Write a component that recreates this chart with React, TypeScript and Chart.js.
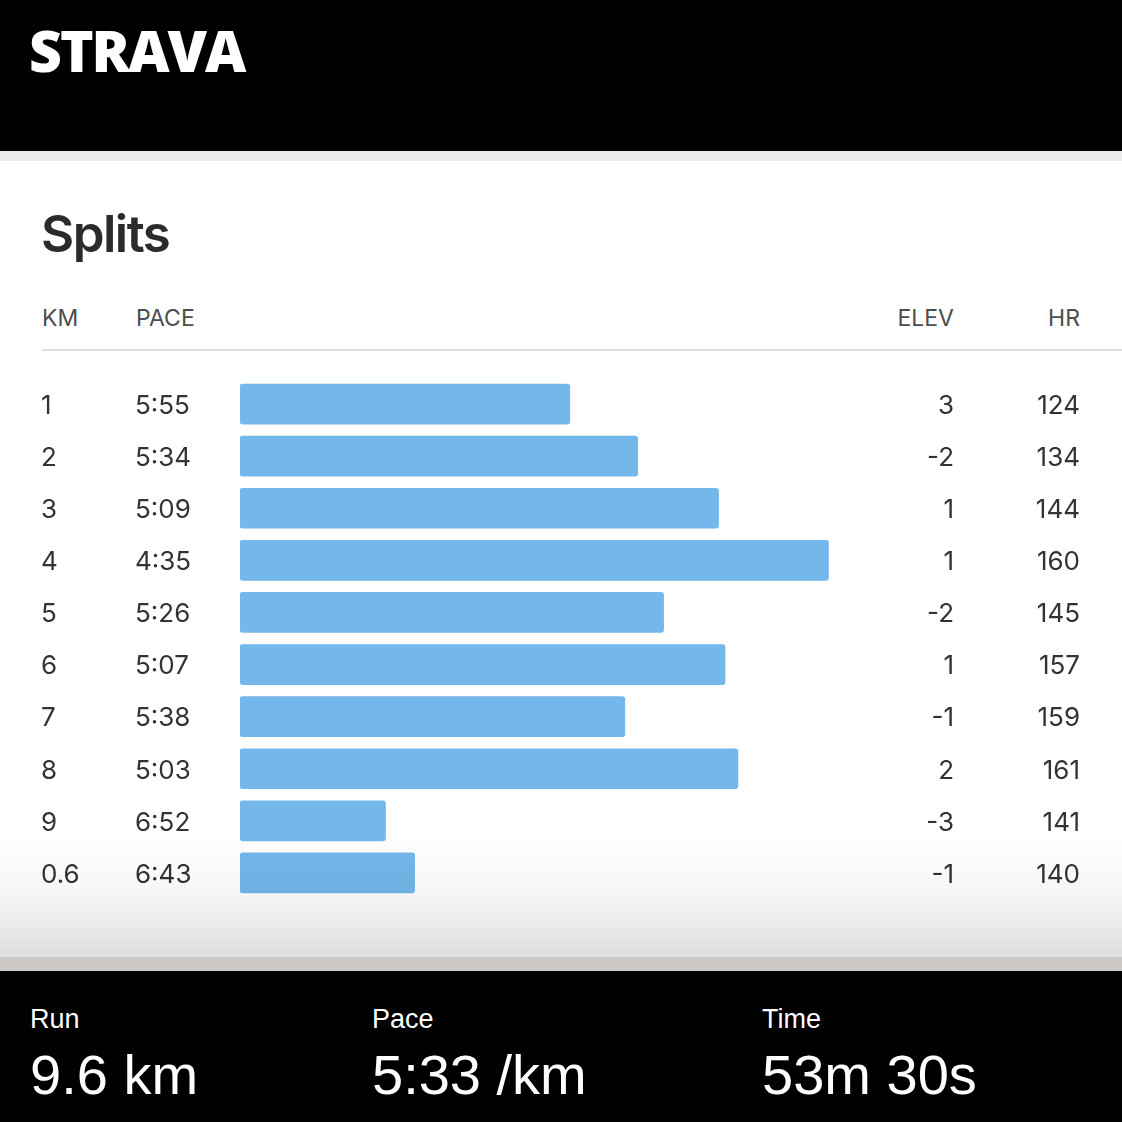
import React, { useEffect, useRef } from "react";
import { Chart, registerables } from "chart.js";

Chart.register(...registerables);

const KM_LABELS = ["1", "2", "3", "4", "5", "6", "7", "8", "9", "0.6"];
const PACES = ["5:55", "5:34", "5:09", "4:35", "5:26", "5:07", "5:38", "5:03", "6:52", "6:43"];
const ELEV = [3, -2, 1, 1, -2, 1, -1, 2, -3, -1];
const HR = [124, 134, 144, 160, 145, 157, 159, 161, 141, 140];
const PACE_AXIS_FAST = 260; // seconds per km at the right edge of the bar area
const PACE_AXIS_SLOW = 457; // seconds per km where bars start (left edge)

const SUMMARY_LABELS = ["Run", "Pace", "Time"];
const SUMMARY_VALUES = ["9.6 km", "5:33 /km", "53m 30s"];

const toSeconds = (p: string) => {
  const [m, s] = p.split(":").map(Number);
  return m * 60 + s;
};

const ROW_FONT = "Inter, 'Noto Sans', sans-serif";

const rowTextPlugin = {
  id: "rowText",
  afterDatasetsDraw(chart: any) {
    const { ctx } = chart;
    const y = chart.scales.y;
    ctx.save();
    ctx.font = `400 26px ${ROW_FONT}`;
    ctx.fillStyle = "#333333";
    ctx.textBaseline = "middle";
    KM_LABELS.forEach((km, i) => {
      const py = y.getPixelForValue(i) + 2;
      ctx.textAlign = "left";
      ctx.fillText(km, 41, py);
      ctx.fillText(PACES[i], 135, py);
      ctx.textAlign = "right";
      ctx.fillText(String(ELEV[i]), 954, py);
      ctx.fillText(String(HR[i]), 1080, py);
    });
    ctx.restore();
  },
};

export default function App() {
  const canvasRef = useRef<HTMLCanvasElement | null>(null);

  useEffect(() => {
    if (!canvasRef.current) return;
    const chart = new Chart(canvasRef.current, {
      type: "bar",
      data: {
        labels: KM_LABELS,
        datasets: [
          {
            data: PACES.map(toSeconds),
            base: PACE_AXIS_SLOW,
            backgroundColor: "#74b7eb",
            borderRadius: 3,
            borderSkipped: false,
            barThickness: 40,
          } as any,
        ],
      },
      options: {
        indexAxis: "y",
        animation: false,
        responsive: false,
        maintainAspectRatio: false,
        events: [],
        layout: { padding: { left: 240, right: 245, top: 378, bottom: 223 } },
        plugins: { legend: { display: false }, tooltip: { enabled: false } },
        scales: {
          x: {
            type: "linear",
            reverse: true,
            min: PACE_AXIS_FAST,
            max: PACE_AXIS_SLOW,
            display: false,
          },
          y: { type: "category", display: false },
        },
      },
      plugins: [rowTextPlugin],
    });
    return () => chart.destroy();
  }, []);

  const abs = (s: React.CSSProperties): React.CSSProperties => ({ position: "absolute", ...s });
  const headerStyle = (F: number): React.CSSProperties => ({
    fontFamily: ROW_FONT,
    fontSize: F,
    lineHeight: `${F}px`,
    color: "#4d4d4d",
    whiteSpace: "nowrap",
  });
  const summaryX = [30, 372, 762];

  return (
    <div style={abs({ left: 0, top: 0, width: 1122, height: 1122, background: "#ffffff", overflow: "hidden" })}>
      <div style={abs({ left: 0, top: 0, width: 1122, height: 151, background: "#000" })} />
      <div style={abs({ left: 0, top: 151, width: 1122, height: 10, background: "#ecebe9" })} />
      <div
        style={abs({
          left: 29,
          top: 21,
          fontFamily: "'Open Sans', sans-serif",
          fontWeight: 800,
          fontSize: 57,
          lineHeight: "58px",
          letterSpacing: -2,
          color: "#fff",
          whiteSpace: "nowrap",
        })}
      >
        STRAVA
      </div>
      <div
        style={abs({
          left: 41,
          top: 208,
          fontFamily: ROW_FONT,
          fontWeight: 600,
          fontSize: 51,
          lineHeight: "52px",
          color: "#2b2b2b",
          letterSpacing: -1.5,
        })}
      >
        Splits
      </div>
      <div style={abs({ left: 42, top: 307, ...headerStyle(23) })}>KM</div>
      <div style={abs({ left: 136, top: 307, ...headerStyle(23) })}>PACE</div>
      <div style={abs({ right: 168, top: 307, ...headerStyle(23), textAlign: "right" })}>ELEV</div>
      <div style={abs({ right: 42, top: 307, ...headerStyle(23), textAlign: "right" })}>HR</div>
      <div style={abs({ left: 42, top: 349, width: 1080, height: 2, background: "#dedede" })} />

      <canvas ref={canvasRef} width={1122} height={1122} style={abs({ left: 0, top: 0, width: 1122, height: 1122 })} />

      <div
        style={abs({
          left: 0,
          top: 830,
          width: 1122,
          height: 127,
          background: "linear-gradient(to bottom, rgba(0,0,0,0) 0%, rgba(0,0,0,0.035) 50%, rgba(0,0,0,0.13) 100%)",
        })}
      />
      <div style={abs({ left: 0, top: 957, width: 1122, height: 14, background: "#cbc8c5" })} />
      <div style={abs({ left: 0, top: 971, width: 1122, height: 151, background: "#000" })} />
      {SUMMARY_LABELS.map((lab, i) => (
        <React.Fragment key={lab}>
          <div
            style={abs({
              left: summaryX[i],
              top: 1006,
              fontFamily: "'Liberation Sans', Arial, sans-serif",
              fontSize: 27,
              lineHeight: "27px",
              color: "#fff",
              whiteSpace: "nowrap",
            })}
          >
            {lab}
          </div>
          <div
            style={abs({
              left: summaryX[i],
              top: 1047,
              fontFamily: "'Liberation Sans', Arial, sans-serif",
              fontSize: 56,
              lineHeight: "56px",
              color: "#fff",
              whiteSpace: "nowrap",
            })}
          >
            {SUMMARY_VALUES[i]}
          </div>
        </React.Fragment>
      ))}
    </div>
  );
}
